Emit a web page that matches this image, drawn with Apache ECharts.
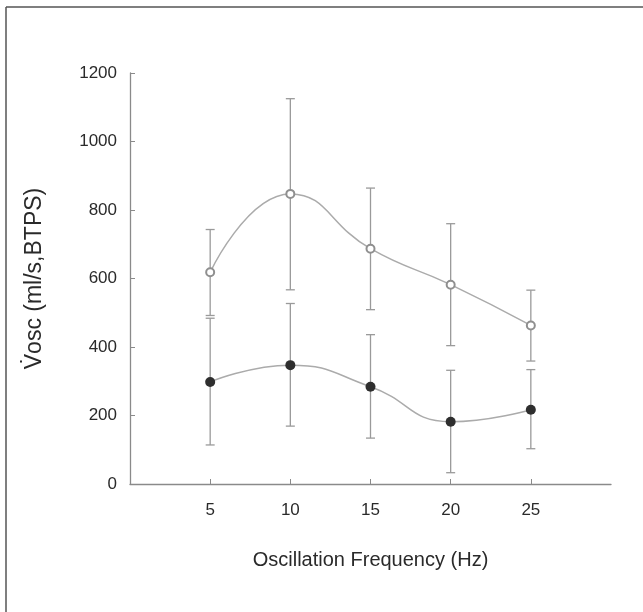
<!DOCTYPE html>
<html>
<head>
    <meta charset="utf-8">
    <script src="https://cdn.jsdelivr.net/npm/echarts@6/dist/echarts.min.js"></script>
    <style>
        html, body { margin: 0; padding: 0; background: #fff; }
    </style>
</head>
<body>
    <div id="main" style="width: 643px;height:612px;"></div>

<script type="text/javascript">

// frequencies (Hz)
var freq = [5, 10, 15, 20, 25];
var xTicks = [5, 10, 15, 20, 25];

// open circles: mean and error bar ends
var openMean = [618, 847, 687, 582, 463];
var openHi   = [743, 1125, 864, 760, 566];
var openLo   = [492, 567, 509, 404, 359];

// filled circles
var fillMean = [298, 347, 284, 182, 217];
var fillHi   = [484, 527, 436, 332, 334];
var fillLo   = [114, 169, 134, 33, 103];

var font = 'Liberation Sans, Arial, Helvetica, sans-serif';
var axisGrey = '#8a8a8a';
var barGrey = '#9a9a9a';

function pairs(xs, ys) {
    return xs.map(function (x, i) { return [x, ys[i]]; });
}
function errRows(xs, lo, hi) {
    return xs.map(function (x, i) { return [x, lo[i], hi[i]]; });
}

function renderErr(params, api) {
    var x = api.value(0);
    var lo = api.coord([x, api.value(1)]);
    var hi = api.coord([x, api.value(2)]);
    var w = 4.5;
    var st = { stroke: barGrey, lineWidth: 1.3 };
    return {
        type: 'group',
        children: [
            { type: 'line', shape: { x1: lo[0], y1: lo[1], x2: hi[0], y2: hi[1] }, style: st },
            { type: 'line', shape: { x1: lo[0] - w, y1: lo[1], x2: lo[0] + w, y2: lo[1] }, style: st },
            { type: 'line', shape: { x1: hi[0] - w, y1: hi[1], x2: hi[0] + w, y2: hi[1] }, style: st }
        ]
    };
}

var myChart = echarts.init(document.getElementById('main'));
var option = {
    backgroundColor: '#fff',
    animation: false,
    grid: { left: 130, top: 73, width: 481, height: 411 },
    xAxis: {
        type: 'value',
        min: 0,
        max: 30,
        interval: 5,
        name: 'Oscillation Frequency (Hz)',
        nameLocation: 'middle',
        nameGap: 66,
        nameTextStyle: { fontFamily: font, fontSize: 20, color: '#2a2a2a' },
        axisLine: { lineStyle: { color: axisGrey, width: 1.3 } },
        axisTick: { inside: true, length: 5, customValues: xTicks, lineStyle: { color: axisGrey } },
        axisLabel: { customValues: xTicks, margin: 18, fontFamily: font, fontSize: 17, color: '#2a2a2a' },
        splitLine: { show: false }
    },
    yAxis: {
        type: 'value',
        min: 0,
        max: 1200,
        interval: 200,
        name: 'V\u0307osc (ml/s,BTPS)',
        nameLocation: 'middle',
        nameRotate: 90,
        nameGap: 84,
        nameTextStyle: { fontFamily: font, fontSize: 23, color: '#2a2a2a' },
        axisLine: { show: true, lineStyle: { color: axisGrey, width: 1.3 } },
        axisTick: { show: true, inside: true, length: 5, lineStyle: { color: axisGrey } },
        axisLabel: {
            margin: 13, fontFamily: font, fontSize: 17, color: '#2a2a2a',
            formatter: function (v) { return String(v); }
        },
        splitLine: { show: false }
    },
    series: [
        {
            type: 'custom',
            renderItem: renderErr,
            data: errRows(freq, openLo, openHi),
            z: 1
        },
        {
            type: 'custom',
            renderItem: renderErr,
            data: errRows(freq, fillLo, fillHi),
            z: 1
        },
        {
            name: 'open',
            type: 'line',
            smooth: 0.5,
            data: pairs(freq, openMean),
            symbol: 'emptyCircle',
            symbolSize: 8,
            lineStyle: { color: '#ababab', width: 1.5 },
            itemStyle: { color: '#8f8f8f', borderWidth: 1.3 },
            z: 3
        },
        {
            name: 'filled',
            type: 'line',
            smooth: 0.5,
            data: pairs(freq, fillMean),
            symbol: 'circle',
            symbolSize: 10,
            lineStyle: { color: '#ababab', width: 1.5 },
            itemStyle: { color: '#2e2e2e' },
            z: 3
        }
    ],
    graphic: [
        { type: 'line', shape: { x1: 6, y1: 7, x2: 643, y2: 7 }, style: { stroke: '#555', lineWidth: 1.5 } },
        { type: 'line', shape: { x1: 6, y1: 7, x2: 6, y2: 612 }, style: { stroke: '#555', lineWidth: 1.5 } }
    ]
};

myChart.setOption(option);

</script>
</body>
</html>
